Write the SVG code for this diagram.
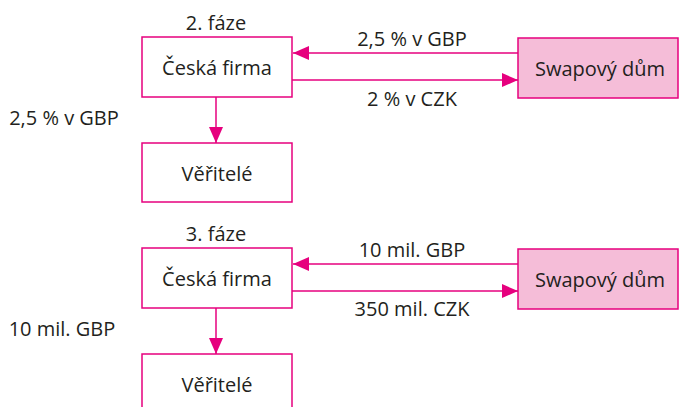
<svg xmlns="http://www.w3.org/2000/svg" width="679" height="407" viewBox="0 0 679 407">
<style>
text{font-family:"Open Sans","Noto Sans","Liberation Sans",sans-serif;font-size:20px;fill:#231f20;text-anchor:middle}
.box{fill:#fff;stroke:#e6007e;stroke-width:1.5}
.swap{fill:#f5bdd8;stroke:#e6007e;stroke-width:1.5}
.ln{stroke:#e6007e;stroke-width:1.5;fill:none}
</style>
<defs>
<marker id="ah" markerUnits="userSpaceOnUse" markerWidth="16" markerHeight="14" viewBox="0 0 16 14" refX="16" refY="7" orient="auto">
<path d="M0,0 L16,7 L0,14 Z" fill="#e6007e"/>
</marker>
</defs>
<rect width="679" height="407" fill="#fff"/>
<g id="phase2">
<text x="216" y="30">2. fáze</text>
<text x="64" y="125">2,5 % v GBP</text>
<text x="412" y="46">2,5 % v GBP</text>
<text x="412" y="106">2 % v CZK</text>
</g>
<g id="firma2"><rect class="box" x="142" y="37" width="150" height="60"/><text x="217" y="75">Česká firma</text></g>
<g id="veritele2"><rect class="box" x="142" y="143" width="150" height="59"/><text x="217" y="181">Věřitelé</text></g>
<g id="swap2"><rect class="swap" x="518" y="38" width="160" height="60"/><text x="600" y="76">Swapový dům</text></g>
<g id="phase3">
<text x="216" y="241">3. fáze</text>
<text x="62" y="336">10 mil. GBP</text>
<text x="412" y="257">10 mil. GBP</text>
<text x="412" y="316">350 mil. CZK</text>
</g>
<g id="firma3"><rect class="box" x="142" y="248" width="150" height="60"/><text x="217" y="286">Česká firma</text></g>
<g id="veritele3"><rect class="box" x="142" y="354" width="150" height="60"/><text x="217" y="392">Věřitelé</text></g>
<g id="swap3"><rect class="swap" x="518" y="249" width="160" height="60"/><text x="600" y="287">Swapový dům</text></g>
<g id="connectors">
<line class="ln" x1="518" y1="53" x2="293" y2="53" marker-end="url(#ah)"/>
<line class="ln" x1="292" y1="80" x2="518" y2="80" marker-end="url(#ah)"/>
<line class="ln" x1="216" y1="97" x2="216" y2="143" marker-end="url(#ah)"/>
<line class="ln" x1="518" y1="264" x2="293" y2="264" marker-end="url(#ah)"/>
<line class="ln" x1="292" y1="291" x2="518" y2="291" marker-end="url(#ah)"/>
<line class="ln" x1="216" y1="308" x2="216" y2="354" marker-end="url(#ah)"/>
</g>
</svg>
